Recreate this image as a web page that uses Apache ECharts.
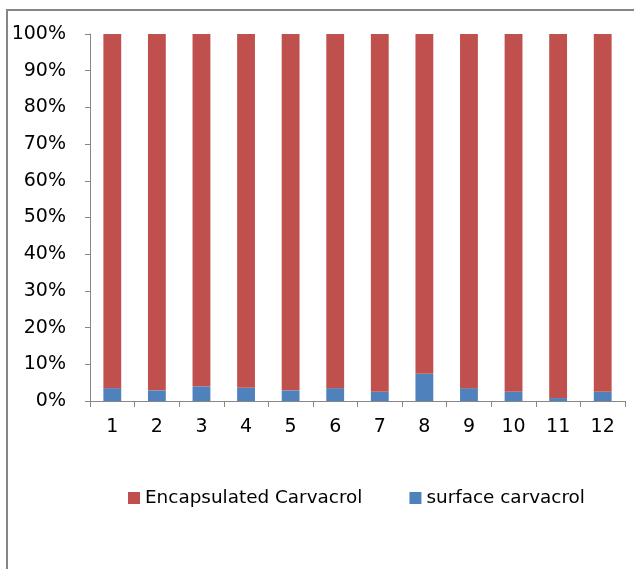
<!DOCTYPE html>
<html>
<head>
<meta charset="utf-8">
<script src="https://cdn.jsdelivr.net/npm/echarts@6/dist/echarts.min.js"></script>
<style>
html,body{margin:0;padding:0;background:#fff;}
#chart{width:634px;height:569px;}
</style>
</head>
<body>
<div id="chart"></div>
<script>
const categories = ['1','2','3','4','5','6','7','8','9','10','11','12'];
const surfaceCarvacrol = [3.5, 2.9, 4.0, 3.6, 2.9, 3.5, 2.5, 7.4, 3.5, 2.5, 0.8, 2.5];
const encapsulatedCarvacrol = [96.5, 97.1, 96.0, 96.4, 97.1, 96.5, 97.5, 92.6, 96.5, 97.5, 99.2, 97.5];
const seriesNames = ['Encapsulated Carvacrol', 'surface carvacrol'];

const chart = echarts.init(document.getElementById('chart'), null, {renderer: 'canvas'});
const FONT = 'DejaVu Sans';
chart.setOption({
  animation: false,
  backgroundColor: '#fff',
  graphic: [{
    type: 'rect',
    shape: {x: 7, y: 10, width: 800, height: 800},
    style: {fill: 'none', stroke: '#868686', lineWidth: 2},
    silent: true
  }],
  grid: {left: 90, right: 9, top: 34, bottom: 168, containLabel: false},
  legend: {
    data: seriesNames,
    left: 123,
    top: 484,
    itemWidth: 12,
    itemHeight: 12,
    itemGap: 47,
    icon: 'rect',
    textStyle: {fontFamily: FONT, fontSize: 18.4, color: '#000'}
  },
  xAxis: {
    type: 'category',
    data: categories,
    boundaryGap: true,
    axisLine: {lineStyle: {color: '#868686', width: 1}},
    axisTick: {show: true, length: 6, alignWithLabel: false, lineStyle: {color: '#868686'}},
    axisLabel: {fontFamily: FONT, fontSize: 19, color: '#000', margin: 17, interval: 0},
    splitLine: {show: false}
  },
  yAxis: {
    type: 'value',
    min: 0,
    max: 100,
    interval: 10,
    axisLine: {show: true, lineStyle: {color: '#868686', width: 1}},
    axisTick: {show: true, length: 5, lineStyle: {color: '#868686'}},
    axisLabel: {fontFamily: FONT, fontSize: 19, color: '#000', margin: 24, formatter: '{value}%'},
    splitLine: {show: false}
  },
  series: [
    {
      name: 'surface carvacrol',
      type: 'bar',
      stack: 'total',
      barWidth: '40%',
      data: surfaceCarvacrol,
      itemStyle: {color: '#4F81BD'}
    },
    {
      name: 'Encapsulated Carvacrol',
      type: 'bar',
      stack: 'total',
      barWidth: '40%',
      data: encapsulatedCarvacrol,
      itemStyle: {color: '#C0504D'}
    }
  ]
});
</script>
</body>
</html>
